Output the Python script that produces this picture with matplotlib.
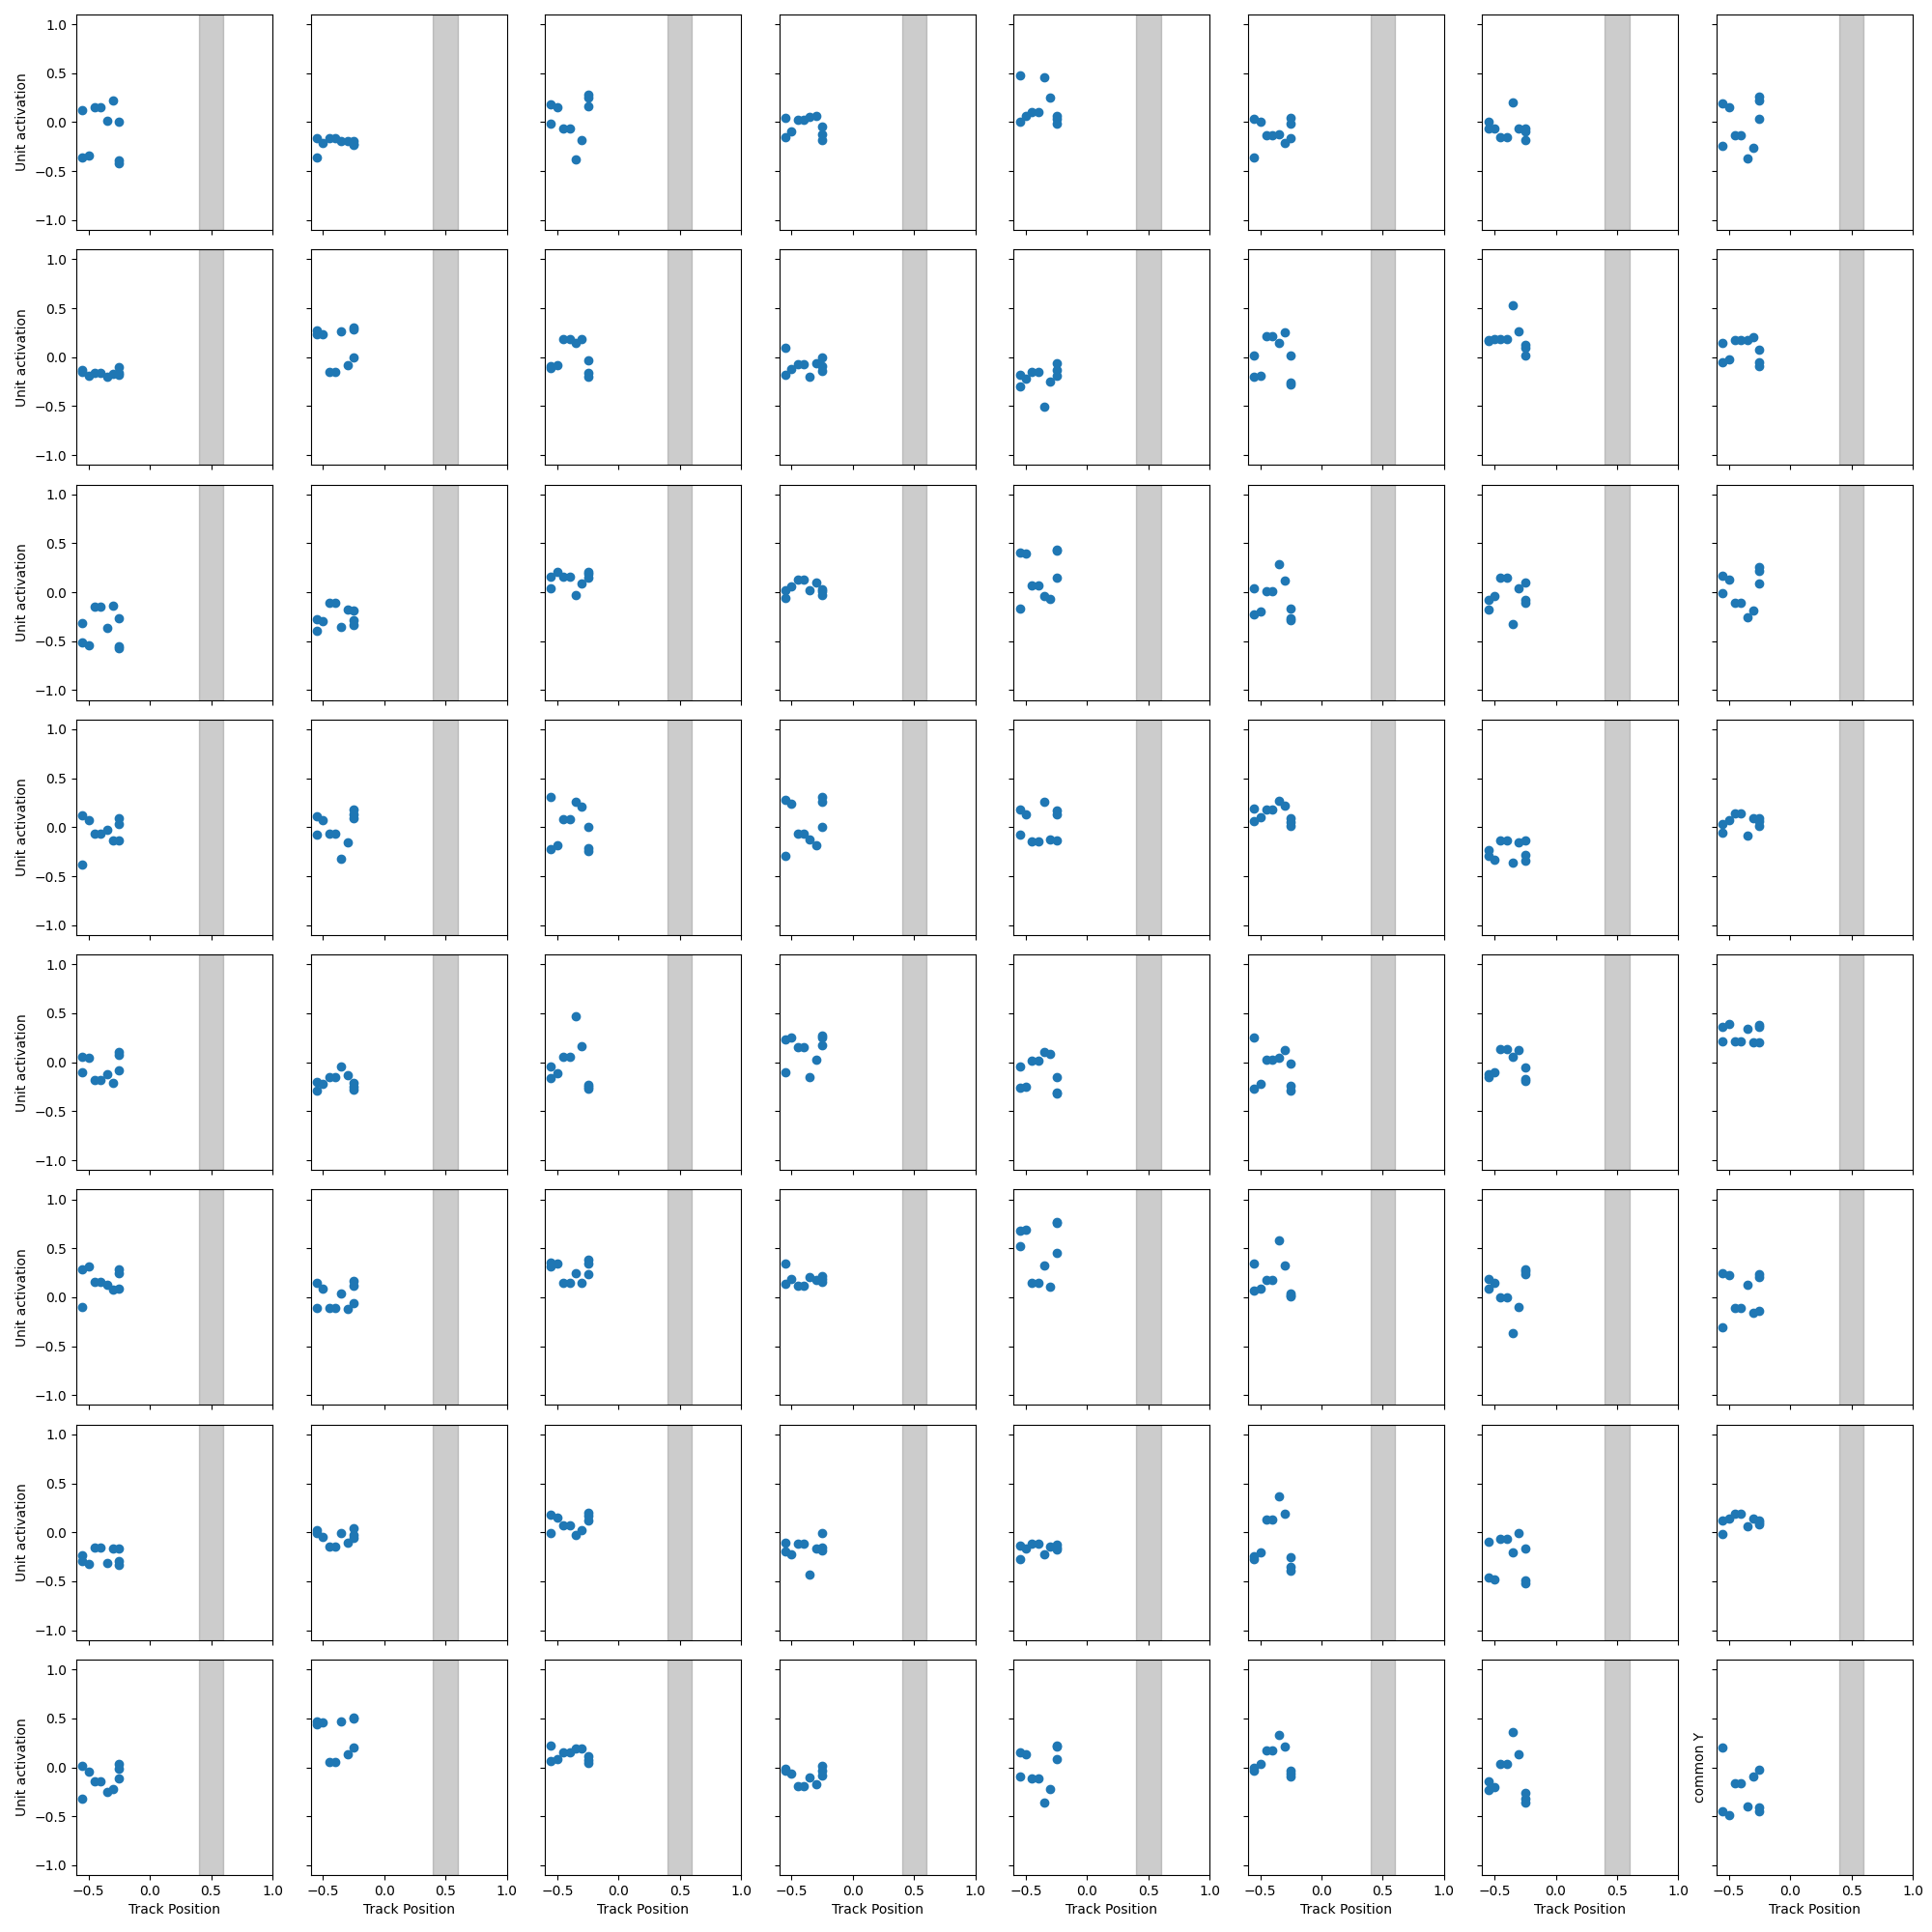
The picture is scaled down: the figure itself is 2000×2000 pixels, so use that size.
import matplotlib
matplotlib.use("Agg")
import matplotlib.pyplot as plt

# Track positions sampled (same for every unit)
track_pos = [-0.55, -0.55, -0.5, -0.45, -0.4, -0.35, -0.3, -0.25, -0.25, -0.25]

# Unit activations, one list per panel, grouped by grid row
act_r1 = [
    [0.125, -0.364, -0.338, 0.154, 0.154, 0.01, 0.223, 0.0, -0.39, -0.42],
    [-0.167, -0.357, -0.213, -0.16, -0.16, -0.197, -0.197, -0.197, -0.22, -0.236],
    [0.184, -0.01, 0.151, -0.069, -0.069, -0.377, -0.18, 0.279, 0.25, 0.164],
    [0.046, -0.151, -0.095, 0.026, 0.026, 0.052, 0.069, -0.046, -0.128, -0.184],
    [0.479, 0.0, 0.062, 0.102, 0.102, 0.462, 0.252, 0.069, 0.03, -0.013],
    [0.036, -0.357, 0.0, -0.138, -0.138, -0.128, -0.21, 0.043, -0.013, -0.161],
    [0.003, -0.069, -0.062, -0.151, -0.151, 0.203, -0.069, -0.069, -0.089, -0.187],
    [0.197, -0.239, 0.154, -0.131, -0.131, -0.367, -0.259, 0.266, 0.223, 0.036],
]
act_r2 = [
    [-0.134, -0.154, -0.186, -0.16, -0.16, -0.199, -0.17, -0.101, -0.16, -0.176],
    [0.271, 0.232, 0.232, -0.147, -0.147, 0.265, -0.078, 0.304, 0.284, 0.0],
    [-0.111, -0.088, -0.078, 0.19, 0.19, 0.141, 0.19, -0.029, -0.16, -0.199],
    [0.101, -0.176, -0.121, -0.072, -0.072, -0.203, -0.065, -0.003, -0.095, -0.144],
    [-0.176, -0.301, -0.216, -0.15, -0.15, -0.51, -0.245, -0.062, -0.127, -0.186],
    [0.02, -0.199, -0.193, 0.216, 0.216, 0.141, 0.258, 0.013, -0.258, -0.281],
    [0.167, 0.175, 0.19, 0.19, 0.19, 0.533, 0.265, 0.127, 0.101, 0.02],
    [0.147, -0.052, -0.02, 0.18, 0.18, 0.173, 0.209, 0.078, -0.052, -0.088],
]
act_r3 = [
    [-0.311, -0.508, -0.538, -0.144, -0.144, -0.361, -0.134, -0.262, -0.554, -0.574],
    [-0.272, -0.39, -0.298, -0.111, -0.111, -0.351, -0.174, -0.184, -0.289, -0.338],
    [0.154, 0.039, 0.203, 0.154, 0.154, -0.026, 0.092, 0.21, 0.187, 0.144],
    [0.02, -0.059, 0.056, 0.131, 0.131, 0.023, 0.102, 0.03, 0.007, -0.026],
    [0.41, -0.164, 0.4, 0.072, 0.072, -0.043, -0.066, 0.439, 0.423, 0.151],
    [0.043, -0.223, -0.193, 0.013, 0.013, 0.289, 0.118, -0.164, -0.266, -0.289],
    [-0.082, -0.174, -0.043, 0.151, 0.151, -0.321, 0.043, 0.102, -0.075, -0.108],
    [0.17, -0.007, 0.131, -0.111, -0.111, -0.252, -0.184, 0.259, 0.213, 0.092],
]
act_r4 = [
    [0.118, -0.384, 0.069, -0.069, -0.069, -0.03, -0.131, 0.092, 0.036, -0.131],
    [0.108, -0.079, 0.069, -0.069, -0.069, -0.325, -0.157, 0.18, 0.131, 0.092],
    [0.305, -0.22, -0.187, 0.082, 0.082, 0.262, 0.207, 0.003, -0.21, -0.246],
    [0.282, -0.292, 0.239, -0.069, -0.069, -0.121, -0.187, 0.311, 0.262, 0.003],
    [0.18, -0.072, 0.131, -0.148, -0.148, 0.256, -0.121, 0.167, 0.131, -0.131],
    [0.19, 0.059, 0.102, 0.18, 0.18, 0.272, 0.216, 0.092, 0.049, 0.01],
    [-0.236, -0.295, -0.334, -0.138, -0.138, -0.361, -0.154, -0.138, -0.285, -0.341],
    [0.033, -0.056, 0.075, 0.141, 0.141, -0.089, 0.092, 0.092, 0.059, 0.01],
]
act_r5 = [
    [0.059, -0.105, 0.043, -0.177, -0.177, -0.121, -0.206, 0.108, 0.075, -0.079],
    [-0.196, -0.285, -0.223, -0.154, -0.154, -0.046, -0.134, -0.213, -0.252, -0.275],
    [-0.046, -0.157, -0.115, 0.059, 0.059, 0.471, 0.167, -0.229, -0.246, -0.268],
    [0.229, -0.098, 0.255, 0.157, 0.157, -0.147, 0.026, 0.275, 0.252, 0.173],
    [-0.039, -0.262, -0.246, 0.016, 0.016, 0.108, 0.088, -0.147, -0.311, -0.324],
    [0.255, -0.268, -0.223, 0.026, 0.026, 0.049, 0.128, -0.013, -0.242, -0.285],
    [-0.121, -0.147, -0.105, 0.137, 0.137, 0.059, 0.128, -0.049, -0.17, -0.193],
    [0.363, 0.216, 0.393, 0.216, 0.216, 0.344, 0.203, 0.386, 0.357, 0.203],
]
act_r6 = [
    [0.282, -0.095, 0.312, 0.154, 0.154, 0.131, 0.076, 0.289, 0.246, 0.092],
    [0.148, -0.105, 0.092, -0.112, -0.112, 0.043, -0.122, 0.167, 0.115, -0.056],
    [0.355, 0.312, 0.348, 0.148, 0.148, 0.25, 0.151, 0.388, 0.348, 0.24],
    [0.348, 0.141, 0.184, 0.118, 0.118, 0.207, 0.174, 0.213, 0.19, 0.158],
    [0.683, 0.525, 0.693, 0.151, 0.151, 0.328, 0.108, 0.772, 0.759, 0.453],
    [0.348, 0.066, 0.092, 0.181, 0.181, 0.585, 0.328, 0.043, 0.02, 0.01],
    [0.19, 0.092, 0.151, 0.003, 0.003, -0.361, -0.095, 0.289, 0.266, 0.24],
    [0.25, -0.309, 0.223, -0.105, -0.105, 0.125, -0.154, 0.24, 0.207, -0.138],
]
act_r7 = [
    [-0.239, -0.289, -0.328, -0.157, -0.157, -0.315, -0.167, -0.167, -0.295, -0.334],
    [0.026, -0.01, -0.049, -0.148, -0.148, -0.007, -0.108, 0.039, -0.023, -0.059],
    [0.177, -0.01, 0.148, 0.075, 0.075, -0.026, 0.023, 0.2, 0.17, 0.125],
    [-0.105, -0.197, -0.223, -0.115, -0.115, -0.433, -0.167, -0.01, -0.157, -0.19],
    [-0.138, -0.275, -0.17, -0.115, -0.115, -0.223, -0.141, -0.131, -0.157, -0.18],
    [-0.24, -0.275, -0.207, 0.128, 0.128, 0.364, 0.193, -0.256, -0.354, -0.393],
    [-0.098, -0.462, -0.482, -0.069, -0.069, -0.203, -0.01, -0.167, -0.492, -0.525],
    [0.121, -0.02, 0.144, 0.193, 0.193, 0.062, 0.144, 0.121, 0.098, 0.079],
]
act_r8 = [
    [0.013, -0.321, -0.043, -0.144, -0.144, -0.256, -0.223, 0.03, -0.013, -0.118],
    [0.472, 0.439, 0.456, 0.052, 0.052, 0.472, 0.134, 0.511, 0.495, 0.2],
    [0.22, 0.062, 0.085, 0.151, 0.151, 0.193, 0.193, 0.118, 0.072, 0.046],
    [-0.013, -0.03, -0.069, -0.19, -0.19, -0.108, -0.177, 0.013, -0.03, -0.085],
    [0.151, -0.095, 0.138, -0.115, -0.115, -0.364, -0.223, 0.226, 0.21, 0.079],
    [-0.003, -0.03, 0.03, 0.17, 0.17, 0.331, 0.21, -0.036, -0.062, -0.095],
    [-0.144, -0.233, -0.207, 0.03, 0.03, 0.357, 0.134, -0.266, -0.325, -0.357],
    [0.2, -0.452, -0.492, -0.167, -0.167, -0.4, -0.089, -0.02, -0.407, -0.452],
]
rows = [act_r1, act_r2, act_r3, act_r4, act_r5, act_r6, act_r7, act_r8]

goal_start, goal_end = 0.4, 0.6
x_ticks = [-0.5, 0.0, 0.5, 1.0]
y_ticks = [-1.0, -0.5, 0.0, 0.5, 1.0]

fig, axes = plt.subplots(8, 8, figsize=(20, 20), dpi=100, sharex=True, sharey=True)
fig.subplots_adjust(left=0.0395, right=0.99, top=0.9925, bottom=0.0295,
                    wspace=0.195, hspace=0.091)

for r, row in enumerate(rows):
    for c, vals in enumerate(row):
        ax = axes[r, c]
        ax.axvspan(goal_start, goal_end, color='gray', alpha=0.4)
        ax.scatter(track_pos, vals, color='#1f77b4', s=36, zorder=3)
        ax.set_xlim(-0.6, 1.0)
        ax.set_ylim(-1.1, 1.1)
        ax.set_xticks(x_ticks)
        ax.set_yticks(y_ticks)
        if c == 0:
            ax.set_ylabel("Unit activation")
        if r == 7:
            ax.set_xlabel("Track Position")

axes[7, 7].set_ylabel("common Y")

fig.savefig("out.png", dpi=100)
